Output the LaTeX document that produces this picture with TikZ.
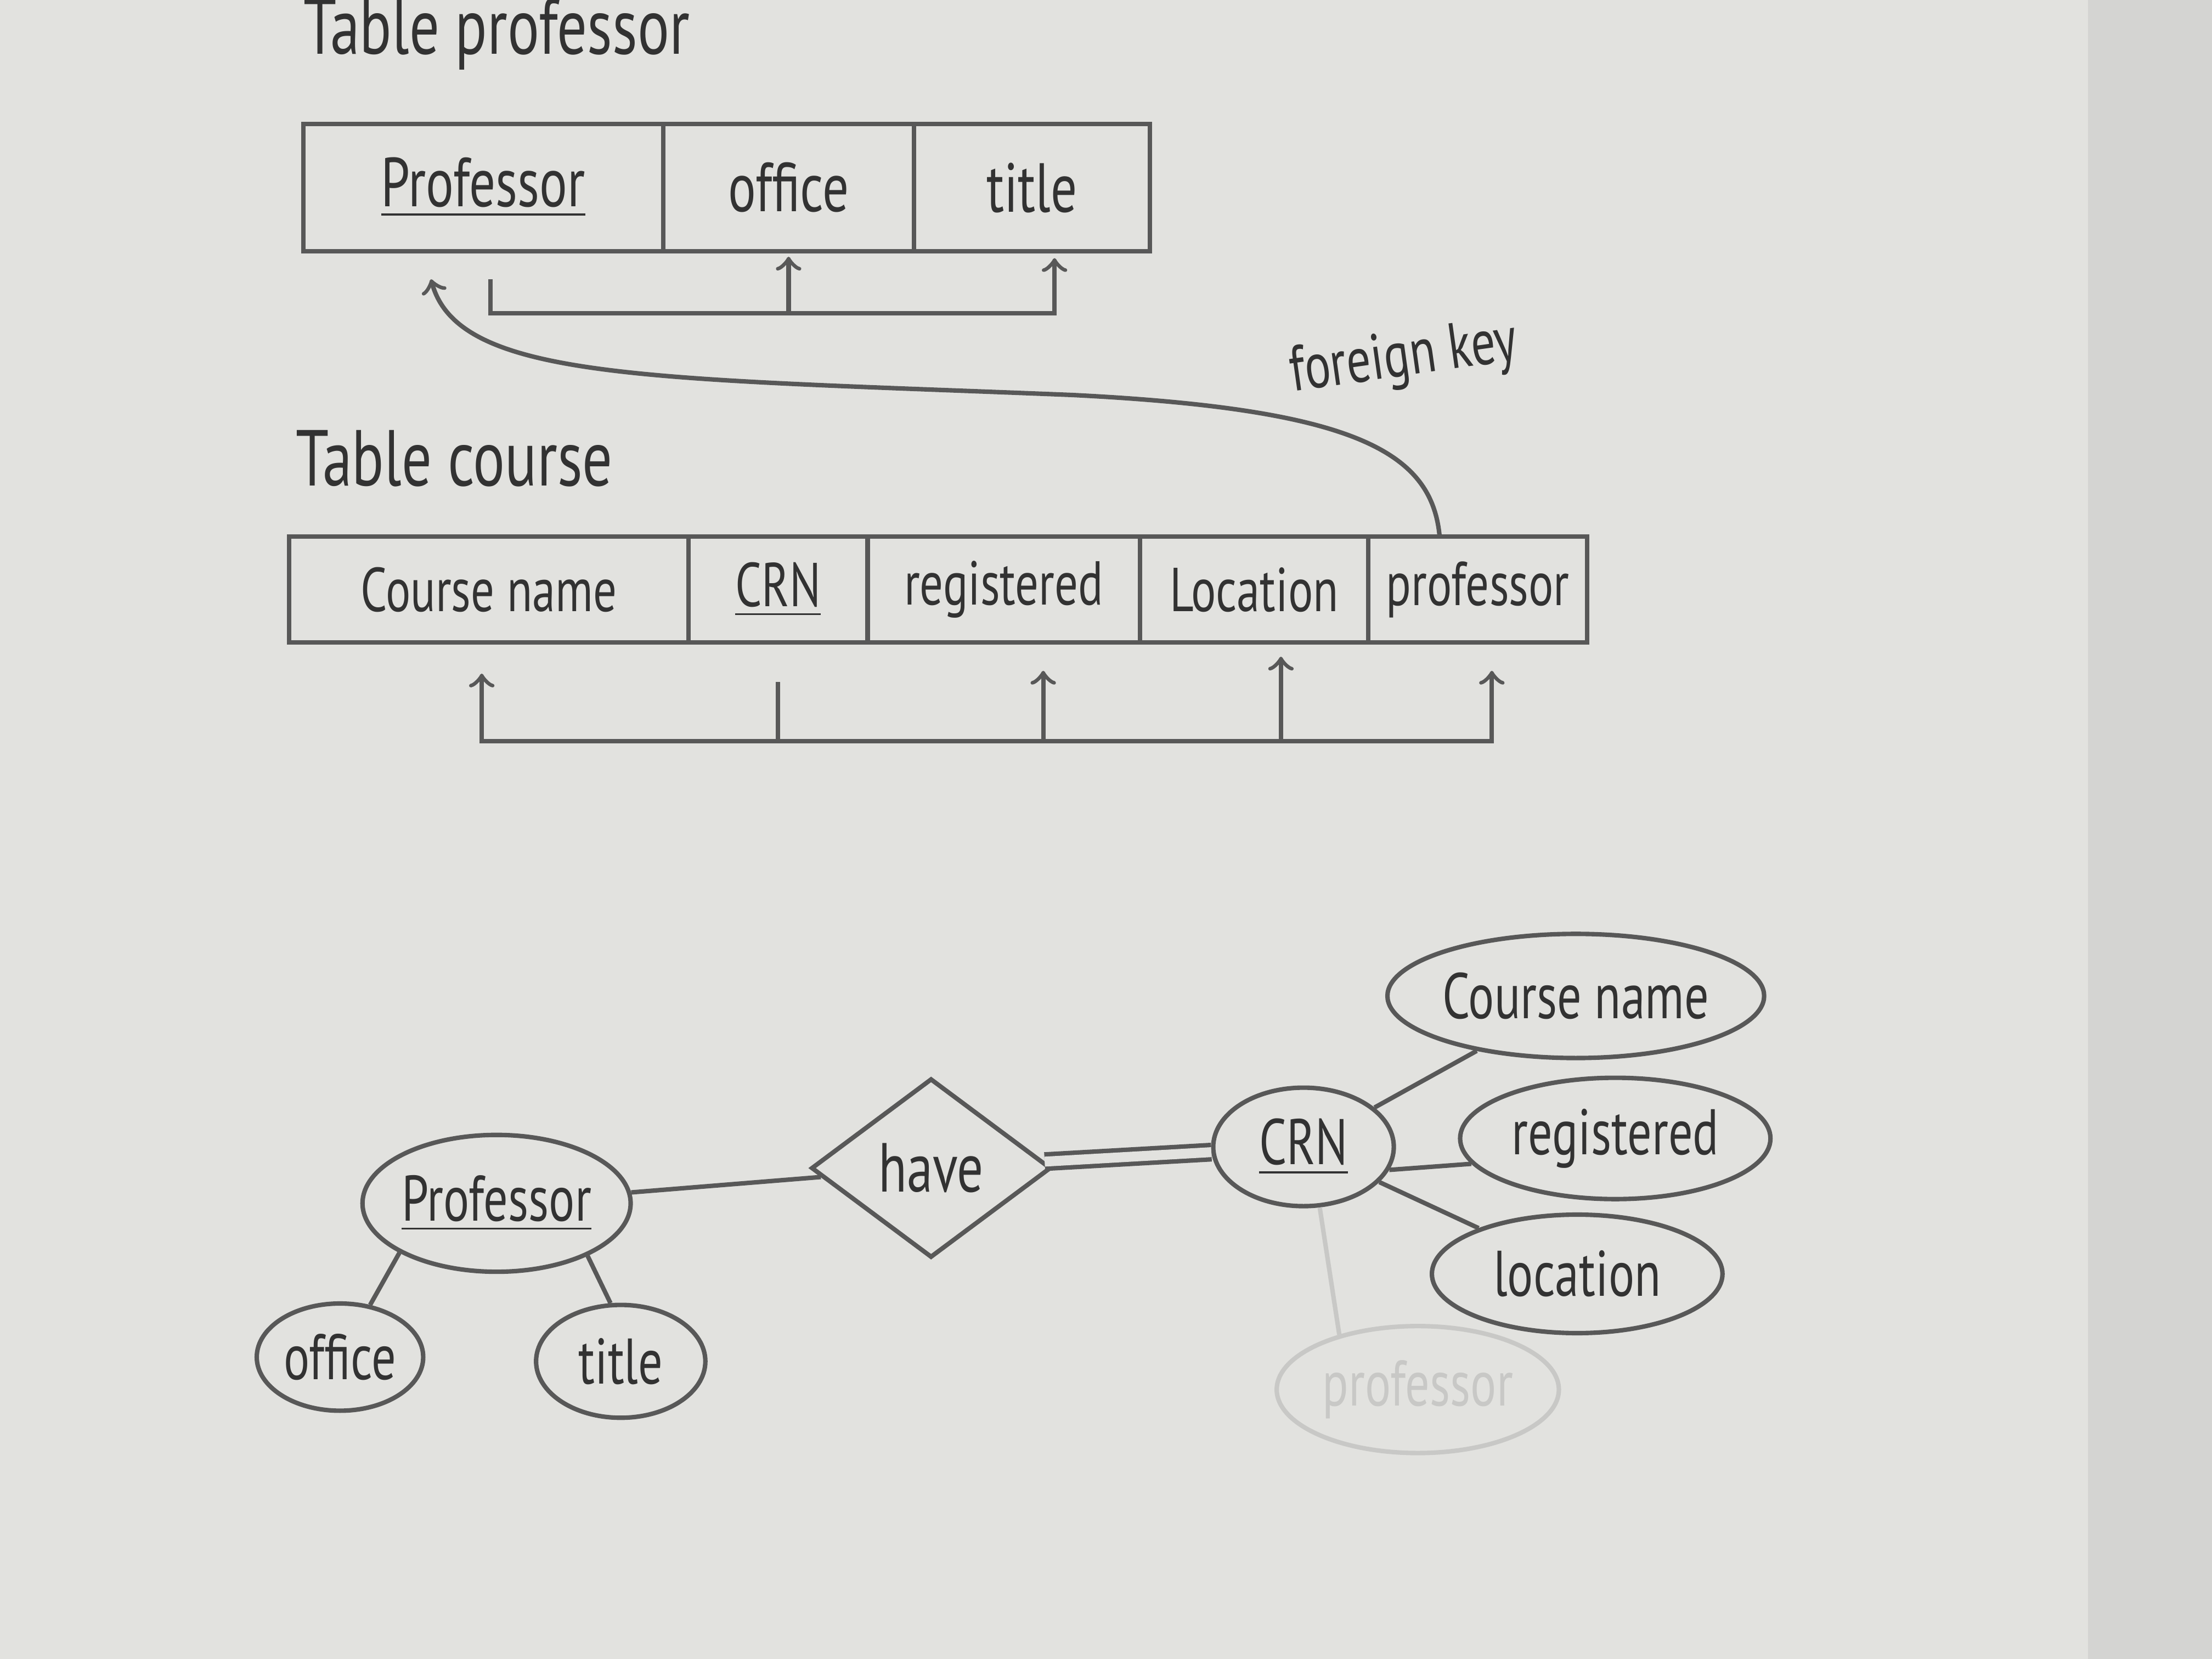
\documentclass[tikz,border=0pt]{standalone}
\usepackage{fontspec}
\setmainfont[FakeStretch=0.75]{PT Sans}
\usetikzlibrary{positioning,shapes.geometric,calc}
\definecolor{paper}{RGB}{226,226,223}
\definecolor{pencil}{RGB}{88,88,88}
\definecolor{lead}{RGB}{50,50,50}
\definecolor{erased}{RGB}{200,200,198}
\tikzset{
  cell/.style={draw=pencil, minimum height=0.75cm, outer sep=0pt, inner sep=1pt,
    text=lead, font=\fontsize{14}{16}\selectfont},
  coursecell/.style={cell, font=\fontsize{12.5}{15}\selectfont},
  attr/.style={ellipse, draw=pencil, inner sep=0pt, text=lead,
    font=\fontsize{13}{15}\selectfont},
  rel/.style={diamond, draw=pencil, inner sep=0pt, text=lead,
    font=\fontsize{14}{16}\selectfont},
  tablename/.style={text=lead, font=\fontsize{16}{18}\selectfont},
  fklabel/.style={text=lead, font=\fontsize{13}{15}\selectfont}
}
\begin{document}
\begin{tikzpicture}[color=pencil, line width=0.9pt]
  \fill[paper] (0,0) rectangle (15.68,-11.76);
  \fill[paper!94!black] (14.8,0) rectangle (15.68,-11.76);
  \useasboundingbox (0,0) rectangle (15.68,-11.76);
  % Table professor
  \node[tablename] (tprof) at (3.52,-0.24) {Table professor};
  \node[cell, minimum height=0.9cm, minimum width=2.55cm, anchor=west] (pprof) at (2.15,-1.33) {\underline{Professor}};
  \node[cell, minimum height=0.9cm, minimum width=1.78cm, right=0pt of pprof] (poffice) {office};
  \node[cell, minimum height=0.9cm, minimum width=1.67cm, right=0pt of poffice] (ptitle) {title};
  \coordinate (pkey) at ($(pprof.south)+(0.05,-0.2)$);
  \coordinate (pbase) at ($(pprof.south)+(0.05,-0.44)$);
  \coordinate (ptip) at ($(ptitle.south)+(0.16,-0.05)$);
  \draw[->] (pkey) -- (pbase) -| (ptip);
  \draw[->] (pbase -| poffice.south) -- ($(poffice.south)+(0,-0.04)$);
  % Table course
  \node[tablename] (tcourse) at (3.22,-3.25) {Table course};
  \node[coursecell, minimum width=2.83cm, anchor=west] (ccname) at (2.05,-4.18) {Course name};
  \node[coursecell, minimum width=1.27cm, right=0pt of ccname] (ccrn) {\underline{CRN}};
  \node[coursecell, minimum width=1.93cm, right=0pt of ccrn] (creg) {registered};
  \node[coursecell, minimum width=1.62cm, right=0pt of creg] (cloc) {Location};
  \node[coursecell, minimum width=1.55cm, right=0pt of cloc] (cprof) {professor};
  \coordinate (cbase) at ($(ccrn.south)+(0,-0.7)$);
  \coordinate (cnametip) at ($(ccname.south)+(-0.05,-0.22)$);
  \coordinate (cproftip) at ($(cprof.south)+(0.1,-0.2)$);
  \coordinate (cregtip) at ($(creg.south)+(0.28,-0.2)$);
  \coordinate (cloctip) at ($(cloc.south)+(0.19,-0.1)$);
  \draw[<->] (cnametip) |- (cbase) -| (cproftip);
  \draw ($(ccrn.south)+(0,-0.28)$) -- (cbase);
  \draw[->] (cbase -| cregtip) -- (cregtip);
  \draw[->] (cbase -| cloctip) -- (cloctip);
  % Foreign key
  \coordinate (fkstart) at ($(cprof.north)+(-0.27,0)$);
  \coordinate (fkend) at ($(pprof.south)+(-0.37,-0.2)$);
  \draw[->] (fkstart) .. controls (10.15,-3.2) and (9.6,-2.9) .. (7.6,-2.8)
    .. controls (4.6,-2.68) and (3.25,-2.7) .. (fkend);
  \node[fklabel, rotate=8] (fk) at (9.95,-2.55) {foreign key};
  % ER diagram
  \node[attr, minimum width=1.9cm, minimum height=0.97cm] (eprof) at (3.52,-8.53) {\underline{Professor}};
  \node[attr, minimum width=1.18cm, minimum height=0.76cm] (eoffice) at (2.41,-9.62) {office};
  \node[attr, minimum width=1.2cm, minimum height=0.8cm] (etitle) at (4.40,-9.65) {title};
  \node[rel, minimum width=1.7cm, minimum height=1.27cm] (have) at (6.60,-8.28) {have};
  \node[attr, minimum width=1.28cm, minimum height=0.84cm] (ecrn) at (9.24,-8.13) {\underline{CRN}};
  \node[attr, minimum width=2.44cm, minimum height=0.88cm] (ecname) at (11.17,-7.06) {Course name};
  \node[attr, minimum width=2.2cm, minimum height=0.86cm] (ereg) at (11.45,-8.07) {registered};
  \node[attr, minimum width=2.06cm, minimum height=0.84cm] (eloc) at (11.18,-9.03) {location};
  \node[attr, draw=erased, text=erased, minimum width=2.0cm, minimum height=0.9cm] (efaded) at (10.05,-9.85) {professor};
  \draw (eprof) -- (have);
  \draw[double=paper, double distance=2pt] (have) -- (ecrn);
  \draw (eprof.-153) -- (eoffice.60);
  \draw (eprof.-30) -- (etitle.100);
  \draw (ecrn) -- (ecname);
  \draw (ecrn.-15) -- (ereg.190);
  \draw (ecrn) -- (eloc);
  \draw[erased] (ecrn.-75) -- (efaded.145);
\end{tikzpicture}
\end{document}
